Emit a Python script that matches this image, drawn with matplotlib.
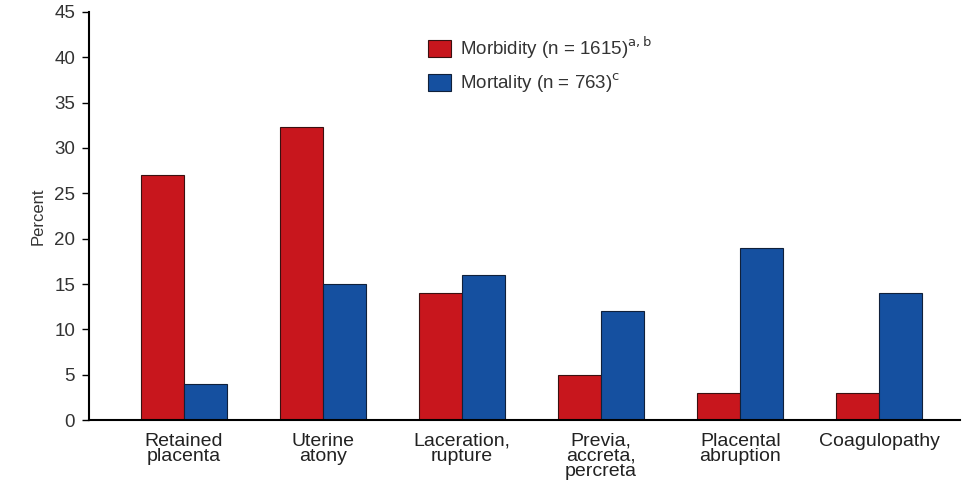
import numpy as np
import matplotlib.pyplot as plt

plt.rcParams['font.family'] = ['Liberation Sans', 'DejaVu Sans']

categories = ['Retained\nplacenta', 'Uterine\natony', 'Laceration,\nrupture',
              'Previa,\naccreta,\npercreta', 'Placental\nabruption', 'Coagulopathy']
morbidity = [27, 32.3, 14, 5, 3, 3]
mortality = [4, 15, 16, 12, 19, 14]
yticks = [0, 5, 10, 15, 20, 25, 30, 35, 40, 45]

red = '#C8161D'
blue = '#1550A0'

fig = plt.figure(figsize=(9.71, 4.92), dpi=100)
ax = fig.add_axes([0.0917, 0.146, 0.897, 0.83])

x = np.arange(len(categories))
w = 0.31
ax.bar(x - w / 2, morbidity, w, color=red, edgecolor='#3a1010', linewidth=0.8,
       label='Morbidity (n = 1615)$^{\\mathrm{a,b}}$')
ax.bar(x + w / 2, mortality, w, color=blue, edgecolor='#10203a', linewidth=0.8,
       label='Mortality (n = 763)$^{\\mathrm{c}}$')

ax.set_xlim(-0.68, 5.58)
ax.set_ylim(0, 45)
ax.set_yticks(yticks)
ax.set_xticks(x)
ax.set_xticklabels(categories, fontsize=14, color='#222222', va='top', linespacing=0.85)
ax.tick_params(axis='x', length=0, pad=9)
ax.tick_params(axis='y', direction='out', length=5, width=1, labelsize=13.5,
               labelcolor='#333333', pad=5)
ax.spines['top'].set_visible(False)
ax.spines['right'].set_visible(False)
ax.spines['left'].set_linewidth(1.5)
ax.spines['bottom'].set_linewidth(1.5)
ax.set_ylabel('Percent', fontsize=12, color='#333333', labelpad=6)

leg = ax.legend(loc='upper left', bbox_to_anchor=(0.37, 0.985), frameon=False,
                fontsize=13.5, handlelength=1.2, handleheight=1.0, labelspacing=0.55,
                handletextpad=0.5)
for t in leg.get_texts():
    t.set_color('#333333')

fig.savefig('out.png', dpi=100)
